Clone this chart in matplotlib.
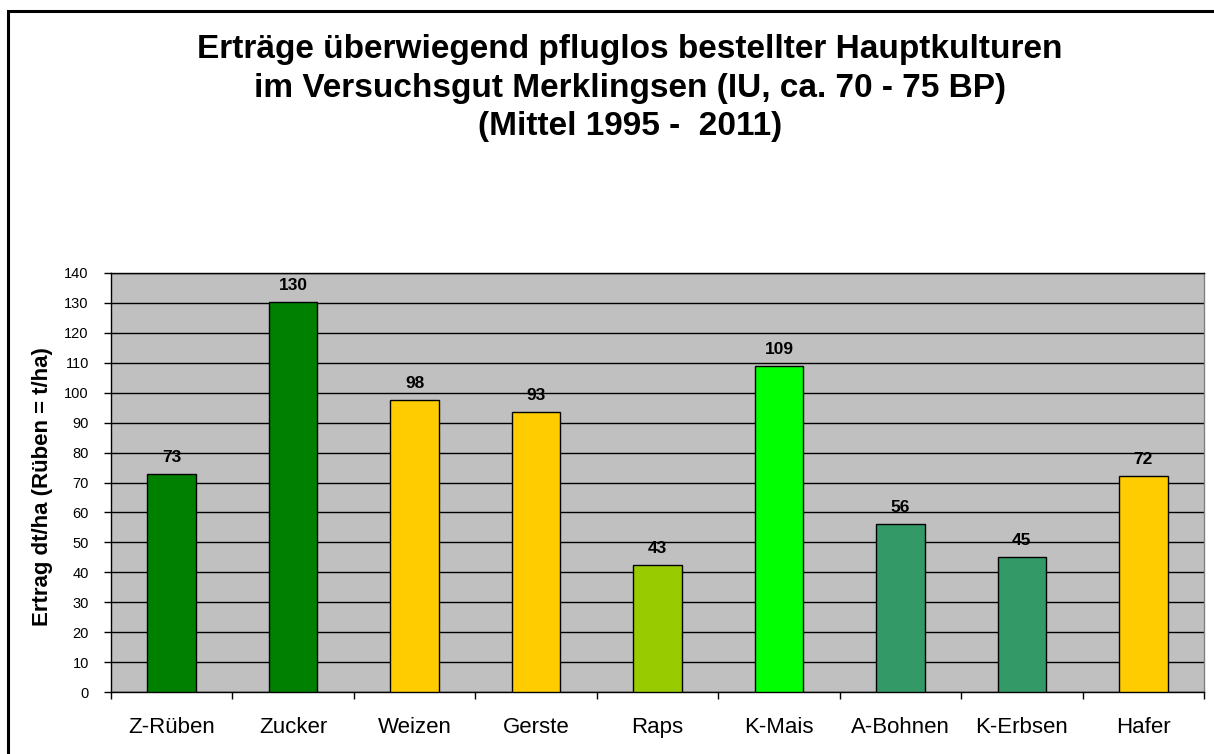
import matplotlib
matplotlib.use("Agg")
import matplotlib.pyplot as plt
from matplotlib.patches import Rectangle
import numpy as np

categories = ["Z-Rüben", "Zucker", "Weizen", "Gerste", "Raps", "K-Mais", "A-Bohnen", "K-Erbsen", "Hafer"]
values = [72.7, 130.3, 97.6, 93.4, 42.6, 108.9, 56.0, 45.1, 72.3]
bar_colors = ["#008000", "#008000", "#FFCC00", "#FFCC00", "#99CC00", "#00FF00", "#339966", "#339966", "#FFCC00"]
y_ticks = list(range(0, 141, 10))
title = ("Erträge überwiegend pfluglos bestellter Hauptkulturen\n"
         "im Versuchsgut Merklingsen (IU, ca. 70 - 75 BP)\n"
         "(Mittel 1995 -  2011)")
y_label = "Ertrag dt/ha (Rüben = t/ha)"

base = "Liberation Sans"

W, H = 1214, 754
fig = plt.figure(figsize=(W / 100, H / 100), dpi=100)
fig.patch.set_facecolor("white")

# outer border (right/bottom cut off in reference)
fig.patches.append(Rectangle((8 / W, -0.2), 1.5, 1.2 - 11 / H, transform=fig.transFigure,
                             fill=False, edgecolor="black", linewidth=2.2, zorder=10))

ax = fig.add_axes([111 / W, 1 - 692 / H, (1204 - 111) / W, (692 - 273) / H])
ax.set_facecolor("#C0C0C0")
x = np.arange(len(categories))
ax.bar(x, values, width=0.40, color=bar_colors, edgecolor="black", linewidth=1.0, zorder=3)
for xi, v in zip(x, values):
    ax.text(xi, v + 3.0, f"{v:.0f}", ha="center", va="bottom", fontsize=12.5,
            fontweight="bold", family=base, zorder=4)

ax.set_xlim(-0.5, len(categories) - 0.5)
ax.set_ylim(0, 140)
ax.set_yticks(y_ticks)
ax.set_yticklabels([str(t) for t in y_ticks], fontsize=10.5, family=base)
ax.yaxis.grid(True, color="black", linewidth=1.0, zorder=1)
ax.set_axisbelow(True)

ax.set_xticks(x)
ax.set_xticklabels(categories, fontsize=16, family=base)
ax.set_xticks(np.arange(-0.5, len(categories), 1.0), minor=True)
ax.tick_params(axis="x", which="major", length=0, pad=18)
ax.tick_params(axis="x", which="minor", length=5, width=1, direction="out", color="black")
ax.tick_params(axis="y", length=5, width=1, direction="out", pad=11, color="black")

for s in ["left", "bottom", "top"]:
    ax.spines[s].set_color("black")
    ax.spines[s].set_linewidth(1.0)
ax.spines["right"].set_color("#808080")
ax.spines["right"].set_linewidth(1.0)

fig.text(630 / W, 1 - 88 / H, title, ha="center", va="center", fontsize=24,
         fontweight="bold", family=base, linespacing=1.3)
fig.text(43 / W, 1 - 487 / H, y_label, ha="center", va="center", rotation=90,
         fontsize=16, fontweight="bold", family=base)

fig.savefig("out.png", dpi=100)
